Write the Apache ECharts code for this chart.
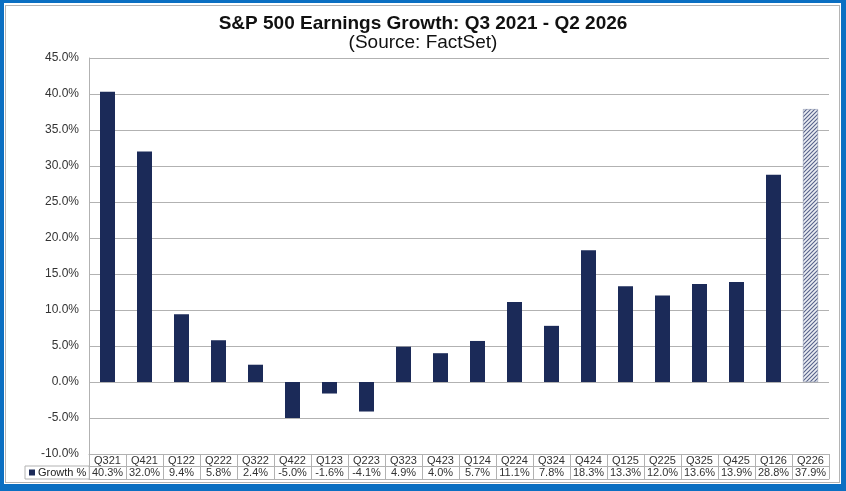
<!DOCTYPE html>
<html>
<head>
<meta charset="utf-8">
<script src="https://cdn.jsdelivr.net/npm/echarts@6/dist/echarts.min.js"></script>
<style>
  body { margin: 0; background: #fff; }
  #wrap { position: relative; width: 846px; height: 491px; }
  #chart { width: 846px; height: 491px; }
  .frame-blue { position: absolute; left: 0; top: 0; right: 0; bottom: 0; box-sizing: border-box;
    border-style: solid; border-color: #0b6fc2; border-width: 3px 5px 7px 4px; pointer-events: none; }
  .frame-grey { position: absolute; left: 5px; top: 5px; width: 835px; height: 478px; box-sizing: border-box;
    border: 1px solid #b4b4b4; pointer-events: none; }
</style>
</head>
<body>
<div id="wrap">
  <div id="chart"></div>
  <div class="frame-grey"></div>
  <div class="frame-blue"></div>
</div>
<script>
// 数据
var quarters = ['Q321', 'Q421', 'Q122', 'Q222', 'Q322', 'Q422', 'Q123', 'Q223', 'Q323', 'Q423',
                'Q124', 'Q224', 'Q324', 'Q424', 'Q125', 'Q225', 'Q325', 'Q425', 'Q126', 'Q226'];
var growth = [40.3, 32.0, 9.4, 5.8, 2.4, -5.0, -1.6, -4.1, 4.9, 4.0,
              5.7, 11.1, 7.8, 18.3, 13.3, 12.0, 13.6, 13.9, 28.8, 37.9];
var estimated = ['Q226'];
var yMin = -10, yMax = 45, yStep = 5;

var navy = '#1b2a58';
var gridGrey = '#b2b2b2';

// 斜线填充 (estimate bar)
function hatch() {
    var c = document.createElement('canvas');
    c.width = 4; c.height = 4;
    var ctx = c.getContext('2d');
    ctx.fillStyle = '#eceef3';
    ctx.fillRect(0, 0, 4, 4);
    ctx.strokeStyle = '#56608a';
    ctx.lineWidth = 1.1;
    ctx.beginPath();
    ctx.moveTo(0, 4); ctx.lineTo(4, 0);
    ctx.moveTo(-1, 1); ctx.lineTo(1, -1);
    ctx.moveTo(3, 5); ctx.lineTo(5, 3);
    ctx.stroke();
    return { image: c, repeat: 'repeat' };
}

function pct(v) { return Number(v).toFixed(1) + '%'; }

var myChart = echarts.init(document.getElementById('chart'));
var option = {
    backgroundColor: '#fff',
    animation: false,
    textStyle: { fontFamily: 'Liberation Sans, Arial, sans-serif' },
    title: {
        text: 'S&P 500 Earnings Growth: Q3 2021 - Q2 2026',
        subtext: '(Source: FactSet)',
        left: 'center',
        top: 9,
        itemGap: 0,
        textStyle: { fontSize: 19, fontWeight: 'bold', color: '#111' },
        subtextStyle: { fontSize: 19, color: '#111' }
    },
    legend: {
        data: ['Growth %'],
        left: 25,
        top: 466,
        icon: 'rect',
        itemWidth: 6,
        itemHeight: 6,
        itemGap: 0,
        padding: [0, 3, 0, 4],
        borderColor: gridGrey,
        borderWidth: 1,
        textStyle: { fontSize: 11, color: '#222', lineHeight: 12, padding: [1, 0, 0, -2] }
    },
    grid: { left: 89, right: 17, top: 58, bottom: 37 },
    xAxis: [{
        type: 'category',
        data: quarters,
        position: 'bottom',
        axisLine: { show: true, onZero: false, lineStyle: { color: gridGrey } },
        axisTick: { show: true, interval: 0, length: 25, lineStyle: { color: gridGrey } },
        axisLabel: { interval: 0, fontSize: 11, lineHeight: 11, color: '#333', margin: 1 }
    }, {
        type: 'category',
        data: quarters,
        position: 'bottom',
        offset: 12,
        axisLine: { show: true, onZero: false, lineStyle: { color: gridGrey } },
        axisTick: { show: false },
        axisLabel: {
            interval: 0, fontSize: 11, lineHeight: 11, color: '#333', margin: 1,
            formatter: function (v, i) { return pct(growth[i]); }
        }
    }, {
        type: 'category',
        data: quarters,
        position: 'bottom',
        offset: 25,
        axisLine: { show: true, onZero: false, lineStyle: { color: gridGrey } },
        axisTick: { show: false },
        axisLabel: { show: false }
    }],
    yAxis: {
        type: 'value',
        min: yMin,
        max: yMax,
        interval: yStep,
        axisLine: { show: true, lineStyle: { color: gridGrey } },
        axisTick: { show: false },
        splitLine: { lineStyle: { color: gridGrey } },
        axisLabel: { fontSize: 12, color: '#333', margin: 10, formatter: pct }
    },
    series: [{
        name: 'Growth %',
        type: 'bar',
        barWidth: 15,
        itemStyle: { color: navy },
        data: growth.map(function (v, i) {
            if (estimated.indexOf(quarters[i]) >= 0) {
                return { value: v, itemStyle: { color: hatch(), borderColor: '#8890aa', borderWidth: 0.5 } };
            }
            return v;
        })
    }]
};
myChart.setOption(option);
</script>
</body>
</html>
